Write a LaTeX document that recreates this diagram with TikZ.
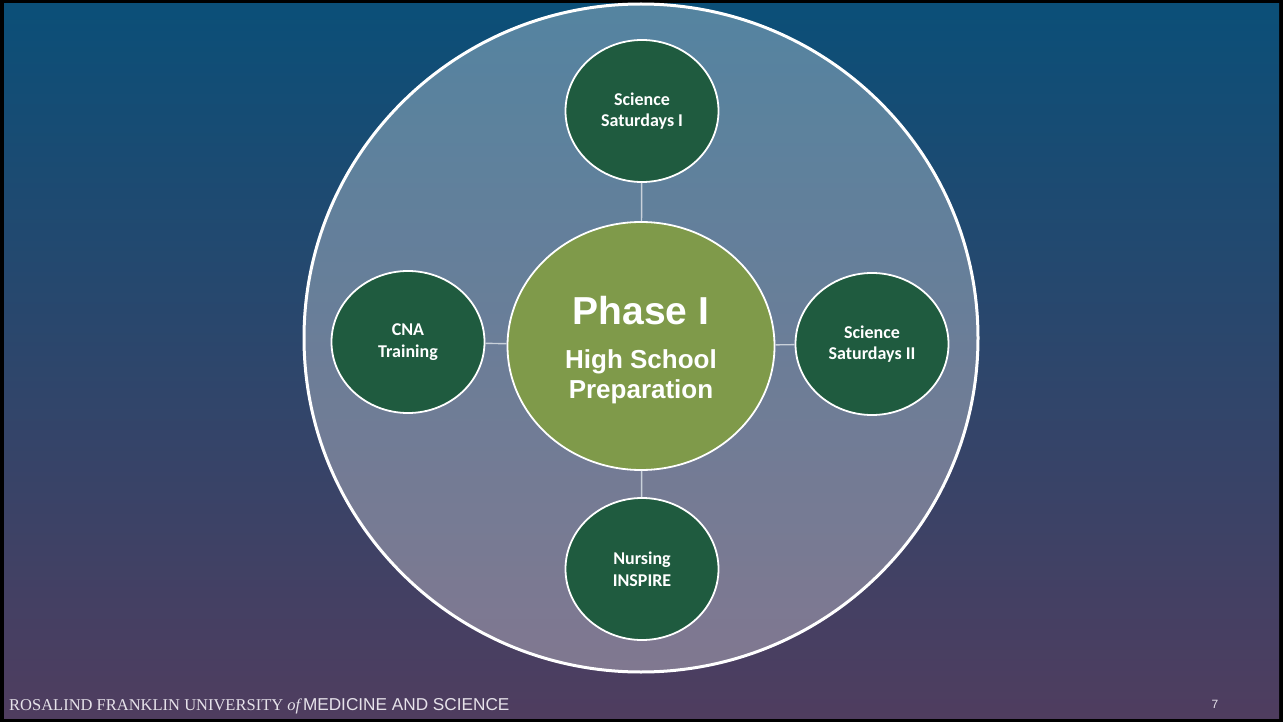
\documentclass[tikz,border=0pt]{standalone}
\usepackage{fontspec}
\setmainfont{Liberation Sans}
\newfontfamily\calfont{Carlito}
\newfontfamily\rfuserif{Liberation Serif}
\usetikzlibrary{shapes.geometric}

\definecolor{bgtop}{HTML}{0B4F78}
\definecolor{bgbottom}{HTML}{4F3D5F}
\definecolor{progreen}{HTML}{1F5B3F}
\definecolor{phaseolive}{HTML}{7F9A4A}
\definecolor{linkgray}{HTML}{C9D1DA}
\definecolor{footgray}{HTML}{E6E2EA}

\tikzset{
    program/.style={ellipse, draw=white, line width=1.8pt, fill=progreen,
        minimum width=153pt, minimum height=142pt, inner sep=0pt,
        text=white, align=center, font=\calfont\bfseries\fontsize{18}{21.5}\selectfont},
    phase/.style={ellipse, draw=white, line width=1.8pt, fill=phaseolive,
        minimum width=267pt, minimum height=248pt, inner sep=0pt,
        text=white, align=center, font=\bfseries\fontsize{26}{30}\selectfont},
    link/.style={draw=linkgray, line width=1.4pt}
}

\begin{document}
\begin{tikzpicture}[x=1pt, y=-1pt]
        % Slide background.
        \fill[black] (0,0) rectangle (1283,722);
        \shade[top color=bgtop, bottom color=bgbottom] (4,4) rectangle (1279,718);
        \useasboundingbox (0,0) rectangle (1283,722);

        % Big circle.
        \filldraw[fill=white, fill opacity=0.3, draw=white, line width=3pt]
            (641,338) ellipse [x radius=337, y radius=334];

        % Phase and programs.
        \node[phase] (phase) at (641,346)
            {{\fontsize{39}{44}\selectfont\rule{0pt}{36pt}Phase I}\\[14pt]High School\\Preparation};
        \node[program] (sat1) at (642,111) {Science\\Saturdays I};
        \node[program] (sat2) at (872,344) {Science\\Saturdays II};
        \node[program] (cna) at (408,342) {CNA\\Training};
        \node[program] (nursing) at (642,569) {Nursing\\INSPIRE};

        \draw[link] (sat1) -- (phase);
        \draw[link] (sat2) -- (phase);
        \draw[link] (cna) -- (phase);
        \draw[link] (nursing) -- (phase);

        % Footer.
        \node[anchor=base west, inner sep=0pt, text=footgray] (footer) at (9,710)
            {{\rfuserif\fontsize{16.5}{18}\selectfont ROSALIND FRANKLIN UNIVERSITY
            {\itshape of}} {\fontsize{17.2}{18}\selectfont MEDICINE AND SCIENCE}};
        \node[anchor=base, inner sep=0pt, text=footgray, font=\fontsize{12}{14}\selectfont]
            (pagenum) at (1215,708) {7};
\end{tikzpicture}
\end{document}
